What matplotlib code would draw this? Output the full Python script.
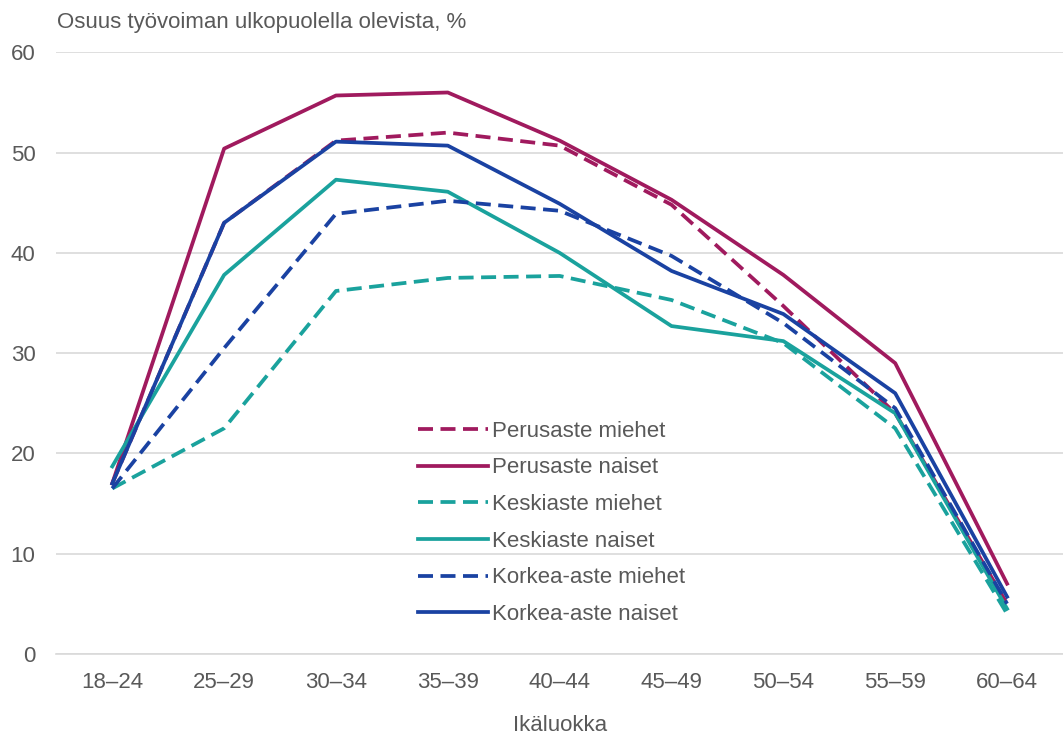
import matplotlib
matplotlib.use('Agg')
import matplotlib.pyplot as plt

plt.rcParams['font.family'] = ['Liberation Sans', 'DejaVu Sans']

# Ikäluokat
ikaluokat = ['18–24', '25–29', '30–34', '35–39', '40–44', '45–49', '50–54', '55–59', '60–64']

# Osuus työvoiman ulkopuolella olevista, %
perus_miehet = [17.0, 43.0, 51.2, 52.0, 50.7, 44.8, 34.7, 24.0, 5.0]
perus_naiset = [17.0, 50.4, 55.7, 56.0, 51.2, 45.3, 37.8, 29.0, 7.0]
keski_miehet = [16.5, 22.5, 36.2, 37.5, 37.7, 35.3, 31.0, 22.5, 4.0]
keski_naiset = [18.7, 37.8, 47.3, 46.1, 40.0, 32.7, 31.2, 24.0, 4.5]
korkea_miehet = [16.5, 30.5, 43.9, 45.2, 44.2, 39.7, 33.0, 24.5, 5.0]
korkea_naiset = [17.0, 43.0, 51.1, 50.7, 44.9, 38.2, 33.9, 26.0, 5.7]

sarjat = [
    ('Perusaste miehet', perus_miehet, '#A01A5E', '--'),
    ('Perusaste naiset', perus_naiset, '#A01A5E', '-'),
    ('Keskiaste miehet', keski_miehet, '#1AA29D', '--'),
    ('Keskiaste naiset', keski_naiset, '#1AA29D', '-'),
    ('Korkea-aste miehet', korkea_miehet, '#1A42A2', '--'),
    ('Korkea-aste naiset', korkea_naiset, '#1A42A2', '-'),
]

fs = 16
tekstivari = '#595959'

fig = plt.figure(figsize=(10.63, 7.38), dpi=100)
ax = fig.add_axes([0.053, 0.114, 0.947, 0.815])

x = range(len(ikaluokat))
for nimi, arvot, vari, tyyli in sarjat:
    if tyyli == '--':
        ax.plot(x, arvot, color=vari, lw=2.7, dashes=(4.0, 2.0), label=nimi)
    else:
        ax.plot(x, arvot, color=vari, lw=2.7, label=nimi)

ax.set_xlim(-0.5, len(ikaluokat) - 0.5)
ax.set_ylim(0, 60)
ax.set_yticks(range(0, 61, 10))
ax.set_xticks(list(x))
ax.set_xticklabels(ikaluokat)
ax.grid(axis='y', color='#D9D9D9', lw=1.2)
ax.set_axisbelow(True)
for s in ['top', 'right', 'left']:
    ax.spines[s].set_visible(False)
ax.spines['bottom'].set_color('#D9D9D9')
ax.spines['bottom'].set_linewidth(1.2)
ax.tick_params(length=0, colors=tekstivari, labelsize=fs)
ax.tick_params(axis='x', pad=13)
ax.tick_params(axis='y', pad=15)

ax.set_xlabel('Ikäluokka', color=tekstivari, fontsize=fs, labelpad=16)
fig.text(0.054, 0.969, 'Osuus työvoiman ulkopuolella olevista, %', color=tekstivari,
         fontsize=fs, ha='left', va='center')

leg = ax.legend(loc='upper left', bbox_to_anchor=(0.339, 0.421), frameon=False,
                fontsize=fs, handlelength=3.15, handletextpad=0.2, labelspacing=0.705,
                labelcolor=tekstivari)

fig.savefig('out.png', dpi=100)
